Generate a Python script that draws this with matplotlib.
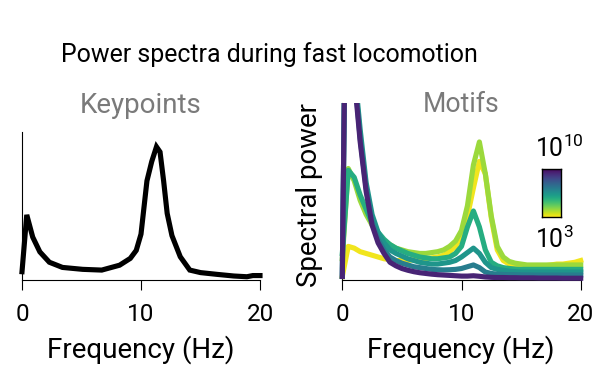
import numpy as np
import matplotlib
matplotlib.use("Agg")
import matplotlib.pyplot as plt
from matplotlib.patches import Rectangle
from matplotlib.transforms import blended_transform_factory

plt.rcParams['font.family'] = ['Roboto', 'DejaVu Sans']
plt.rcParams['mathtext.fontset'] = 'custom'
plt.rcParams['mathtext.rm'] = 'Roboto'
plt.rcParams['mathtext.it'] = 'Roboto'
plt.rcParams['mathtext.bf'] = 'Roboto'

# ---------------- data ----------------
title = "Power spectra during fast locomotion"
xticks = [0, 10, 20]
xlabel = "Frequency (Hz)"
ylabel = "Spectral power"
cbar_labels = ["$10^{10}$", "$10^{3}$"]

kp_freq = [0, 0.4, 0.9, 1.5, 2.3, 3.4, 5.1, 6.7, 8.2, 9.1, 9.6, 10.0, 10.5, 10.9,
           11.3, 11.6, 11.9, 12.2, 12.6, 13.3, 14.1, 15.0, 16.4, 17.8, 18.9, 19.4, 20]
kp_power = [0.056, 0.44, 0.29, 0.19, 0.12, 0.085, 0.072, 0.067, 0.10, 0.146, 0.20,
            0.31, 0.67, 0.80, 0.90, 0.865, 0.67, 0.45, 0.30, 0.157, 0.067, 0.05,
            0.038, 0.027, 0.022, 0.03, 0.03]

motif_freq = [0, 0.5, 1, 1.5, 2, 2.5, 3, 3.5, 4, 4.5, 5, 5.5, 6, 6.5, 7, 7.5, 8, 8.5,
              9, 9.5, 10, 10.5, 11, 11.5, 12, 12.5, 13, 13.5, 14, 14.5, 15, 15.5, 16,
              16.5, 17, 17.5, 18, 18.5, 19, 19.5, 20]

motif_1e3 = [0.02, 0.19, 0.18, 0.16, 0.15, 0.14, 0.13, 0.12, 0.115, 0.11, 0.11, 0.11,
             0.115, 0.12, 0.12, 0.125, 0.13, 0.14, 0.16, 0.19, 0.25, 0.36, 0.52, 0.67,
             0.6, 0.35, 0.17, 0.11, 0.09, 0.085, 0.08, 0.08, 0.08, 0.08, 0.08, 0.085,
             0.09, 0.09, 0.095, 0.10, 0.11]
motif_1e4 = [0.12, 0.63, 0.56, 0.45, 0.37, 0.31, 0.26, 0.22, 0.20, 0.18, 0.17, 0.16,
             0.155, 0.15, 0.15, 0.155, 0.16, 0.17, 0.19, 0.22, 0.28, 0.42, 0.65, 0.78,
             0.6, 0.36, 0.19, 0.13, 0.105, 0.095, 0.09, 0.085, 0.085, 0.085, 0.085,
             0.085, 0.085, 0.085, 0.085, 0.085, 0.085]
motif_1e5 = [0.15, 0.62, 0.58, 0.48, 0.40, 0.32, 0.27, 0.23, 0.20, 0.18, 0.165, 0.15,
             0.14, 0.13, 0.125, 0.12, 0.12, 0.125, 0.13, 0.15, 0.19, 0.30, 0.39, 0.30,
             0.17, 0.10, 0.08, 0.07, 0.065, 0.062, 0.06, 0.06, 0.06, 0.06, 0.06, 0.06,
             0.06, 0.06, 0.06, 0.06, 0.06]
motif_1e7 = [0.02, 3.0, 1.2, 0.85, 0.55, 0.37, 0.27, 0.21, 0.17, 0.15, 0.135, 0.12,
             0.11, 0.10, 0.095, 0.09, 0.09, 0.095, 0.10, 0.11, 0.13, 0.155, 0.18, 0.15,
             0.10, 0.07, 0.06, 0.055, 0.05, 0.047, 0.045, 0.045, 0.045, 0.045, 0.045,
             0.045, 0.045, 0.045, 0.045, 0.045, 0.045]
motif_1e8 = [0.02, 3.0, 1.18, 0.80, 0.52, 0.33, 0.23, 0.17, 0.13, 0.11, 0.095, 0.085,
             0.075, 0.07, 0.065, 0.06, 0.058, 0.057, 0.058, 0.06, 0.065, 0.075, 0.085,
             0.07, 0.045, 0.037, 0.033, 0.031, 0.03, 0.03, 0.029, 0.029, 0.028, 0.028,
             0.028, 0.028, 0.028, 0.028, 0.028, 0.028, 0.028]
motif_1e10 = [0.02, 3.0, 1.15, 0.78, 0.50, 0.31, 0.21, 0.15, 0.10, 0.08, 0.065, 0.055,
              0.047, 0.041, 0.037, 0.033, 0.030, 0.028, 0.026, 0.024, 0.022, 0.022,
              0.024, 0.021, 0.017, 0.015, 0.014, 0.014, 0.013, 0.013, 0.012, 0.012,
              0.012, 0.011, 0.011, 0.011, 0.011, 0.010, 0.010, 0.010, 0.010]

motif_series = [motif_1e3, motif_1e4, motif_1e5, motif_1e7, motif_1e8, motif_1e10]
motif_cpos = [0.98, 0.85, 0.62, 0.52, 0.42, 0.10]

# ---------------- figure ----------------
W, H = 594, 372
fig = plt.figure(figsize=(W / 100, H / 100), dpi=100)
renderer = fig.canvas.get_renderer()


def fx(px):
    return px / W


def fy(py):
    return 1 - py / H


def fit_size(s, target_px, base=16):
    t = fig.text(0, 0, s, fontsize=base)
    w = t.get_window_extent(renderer=renderer).width
    t.remove()
    return base * target_px / w


LW = 3.7
tick_fs = 17.5
label_fs = fit_size(xlabel, 188)
ylabel_fs = fit_size(ylabel, 184)
kp_fs = fit_size("Keypoints", 122)
mo_fs = fit_size("Motifs", 77)
title_fs = fit_size(title, 418)
cb_fs = fit_size(cbar_labels[1], 39)

axL = fig.add_axes([fx(22), fy(280), fx(260) - fx(22), fy(132) - fy(280)])
axR = fig.add_axes([fx(342.3), fy(280), fx(580.7) - fx(342.3), fy(103) - fy(280)])

for ax in (axL, axR):
    ax.set_xlim(0, 20)
    ax.set_ylim(0, 1)
    ax.spines['top'].set_visible(False)
    ax.spines['right'].set_visible(False)
    ax.spines['left'].set_linewidth(0.8)
    ax.spines['bottom'].set_linewidth(0.8)
    ax.set_yticks([])
    ax.set_xticks(xticks)
    ax.set_xticklabels([])
    ax.tick_params(axis='x', direction='out', length=7.5, width=0.8)
    ax.patch.set_alpha(0)
    tr = blended_transform_factory(ax.transData, fig.transFigure)
    for t in xticks:
        ax.text(t, fy(321), str(t), transform=tr, ha='center', va='baseline',
                fontsize=tick_fs, clip_on=False)

axL.plot(kp_freq, kp_power, color='black', lw=LW, solid_joinstyle='miter',
         clip_on=False, zorder=3)

cmap = matplotlib.colormaps['viridis']
clip_rect = Rectangle((-0.05, -0.1), 1.1, 1.1, transform=axR.transAxes,
                      facecolor='none', edgecolor='none')
axR.add_patch(clip_rect)
for vals, c in zip(motif_series, motif_cpos):
    ln, = axR.plot(motif_freq, vals, color=cmap(c), lw=LW, zorder=3)
    ln.set_clip_path(clip_rect)

# texts
fig.text(fx(269), fy(62), title, ha='center', va='baseline', fontsize=title_fs)
fig.text(fx(141), fy(113), "Keypoints", ha='center', va='baseline',
         fontsize=kp_fs, color='#7a7a7a')
fig.text(fx(461), fy(112), "Motifs", ha='center', va='baseline',
         fontsize=mo_fs, color='#7a7a7a')
fig.text(fx(141), fy(358), xlabel, ha='center', va='baseline', fontsize=label_fs)
fig.text(fx(461), fy(358), xlabel, ha='center', va='baseline', fontsize=label_fs)
fig.text(fx(317), fy(195), ylabel, ha='center', va='baseline', rotation=90,
         rotation_mode='anchor', fontsize=ylabel_fs)

# colorbar
cax = fig.add_axes([fx(541.7), fy(217.3), fx(561) - fx(541.7), fy(169) - fy(217.3)])
grad = np.linspace(1, 0, 256).reshape(-1, 1)
cax.imshow(grad, aspect='auto', cmap='viridis_r', extent=[0, 1, 0, 1])
cax.set_xticks([])
cax.set_yticks([])
for s in cax.spines.values():
    s.set_linewidth(1.0)
    s.set_color('black')
fig.text(fx(535), fy(157.3), cbar_labels[0], ha='left', va='baseline', fontsize=cb_fs)
fig.text(fx(535), fy(248), cbar_labels[1], ha='left', va='baseline', fontsize=cb_fs)

fig.savefig("out.png", dpi=100)
